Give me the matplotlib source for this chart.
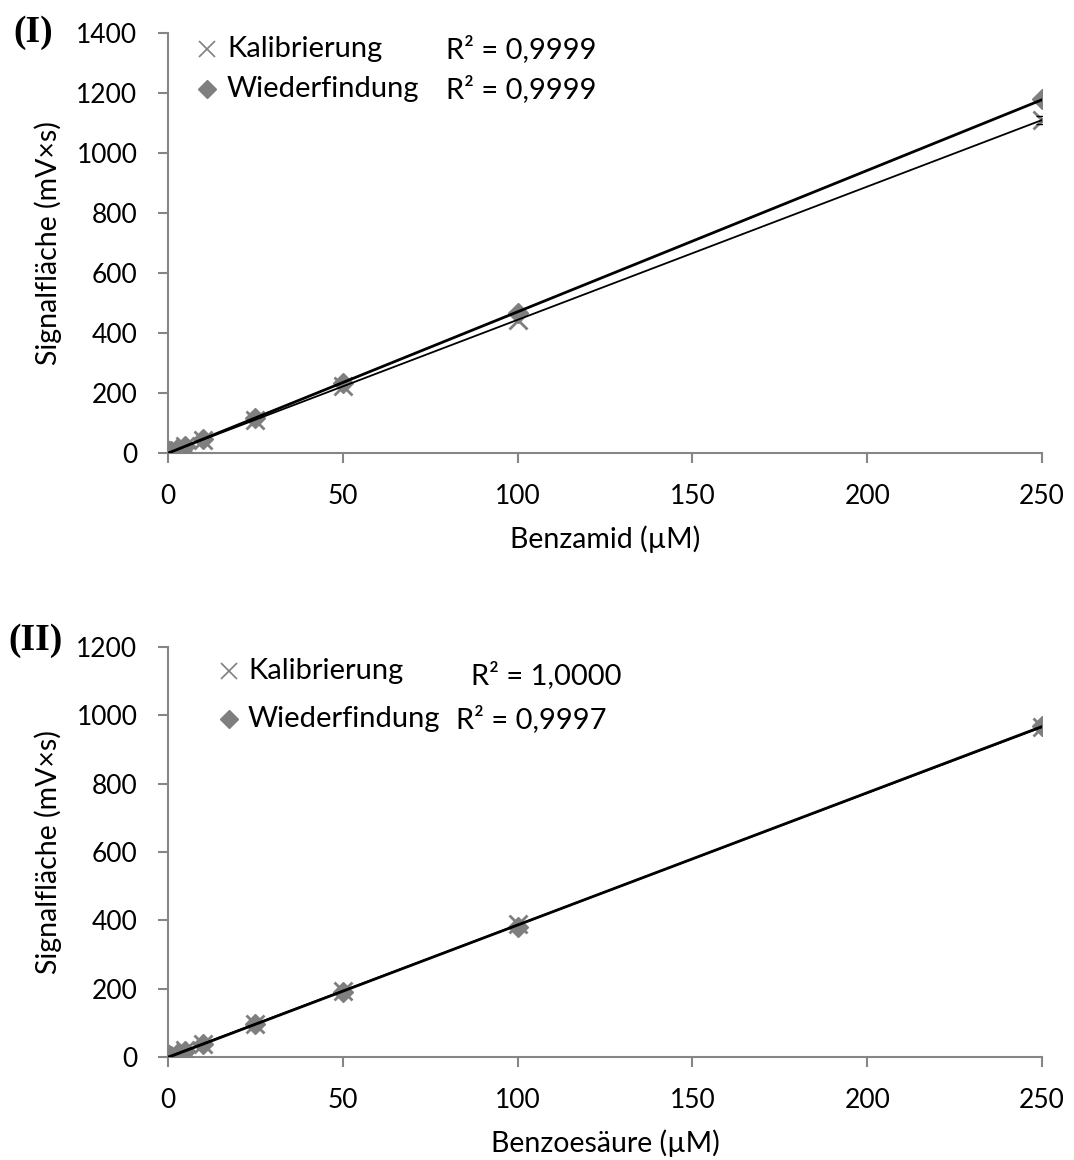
import matplotlib
matplotlib.use("Agg")
import matplotlib.pyplot as plt
import numpy as np

plt.rcParams["font.family"] = ["Lato", "DejaVu Sans"]

# Konzentrationen (µM)
conc = [0.5, 1, 2.5, 5, 10, 25, 50, 100, 250]

# (I) Benzamid
bza_kal = [2, 4.5, 11, 22, 44.5, 111, 222, 443, 1110]
bza_kal_err = [0, 0, 0, 0, 0, 0, 0, 0, 14]
bza_wf = [2.5, 5, 12, 24, 47, 117, 232, 465, 1180]
bza_r2 = ["R² = 0,9999", "R² = 0,9999"]

# (II) Benzoesäure
bzs_kal = [2, 4, 10, 19.5, 39, 97, 194, 388, 965]
bzs_wf = [2, 4, 9.5, 19, 38, 96, 191, 380, 970]
bzs_r2 = ["R² = 1,0000", "R² = 0,9997"]

grey = "#7f7f7f"
axis_grey = "#868686"

fig = plt.figure(figsize=(10.74, 11.6), dpi=100)
ax1 = fig.add_axes([0.1564, 0.6095, 0.8138, 0.3621])
ax2 = fig.add_axes([0.1564, 0.0888, 0.8138, 0.3534])


def trend(x, y):
    # lineare Regression wie Excel-Trendlinie
    m, b = np.polyfit(x, y, 1)
    xs = np.array([0, 250])
    return xs, m * xs + b


def draw(ax, kal, wf, ymax, xlabel, r2, tag, tag_pos, leg_pos, r2_pos, err=None):
    x = np.array(conc)
    ax.plot(x, kal, "x", color=grey, ms=13, mew=2, zorder=3)
    ax.plot(x, wf, "D", color=grey, ms=10.5, zorder=3)
    if err is not None:
        ax.errorbar(x[-1:], kal[-1:], yerr=err[-1:], fmt="none", ecolor="black",
                    elinewidth=1, capsize=4, zorder=4)
    tx, ty = trend(x, kal)
    ax.plot(tx, ty, color="black", lw=1.3, zorder=5)
    tx, ty = trend(x, wf)
    ax.plot(tx, ty, color="black", lw=2, zorder=5)

    ax.set_xlim(0, 250)
    ax.set_ylim(0, ymax)
    ax.set_xticks(np.arange(0, 251, 50))
    ax.set_yticks(np.arange(0, ymax + 1, 200))
    for s in ["top", "right"]:
        ax.spines[s].set_visible(False)
    for s in ["left", "bottom"]:
        ax.spines[s].set_color(axis_grey)
        ax.spines[s].set_linewidth(1.5)
    ax.tick_params(direction="out", length=7, width=1.5, color=axis_grey,
                   labelsize=19, pad=15)
    ax.set_xlabel(xlabel, fontsize=20.5, labelpad=12)
    ax.set_ylabel("Signalfläche (mV×s)", fontsize=20.5, labelpad=10)

    # Legende
    lx, ly1, ly2, tx0 = leg_pos
    ax.plot([lx], [ly1], "x", color=grey, ms=11, mew=1.2, transform=ax.transAxes,
            clip_on=False)
    ax.plot([lx], [ly2], "D", color=grey, ms=9, transform=ax.transAxes,
            clip_on=False)
    ax.text(tx0, ly1, "Kalibrierung", fontsize=21, va="center",
            transform=ax.transAxes)
    ax.text(tx0, ly2, "Wiederfindung", fontsize=21, va="center",
            transform=ax.transAxes)
    (r1x, r1y), (r2x, r2y) = r2_pos
    ax.text(r1x, r1y, r2[0], fontsize=21, va="center", transform=ax.transAxes)
    ax.text(r2x, r2y, r2[1], fontsize=21, va="center", transform=ax.transAxes)

    ax.text(tag_pos[0], tag_pos[1], tag, fontsize=27, fontweight="bold",
            family="Liberation Serif", ha="center", va="center",
            transform=ax.transAxes)


draw(ax1, bza_kal, bza_wf, 1400, "Benzamid (µM)", bza_r2, "(I)", (-0.154, 1.0),
     leg_pos=(0.0446, 0.962, 0.867, 0.0675),
     r2_pos=((0.318, 0.962), (0.318, 0.867)), err=bza_kal_err)
draw(ax2, bzs_kal, bzs_wf, 1200, "Benzoesäure (µM)", bzs_r2, "(II)", (-0.152, 1.017),
     leg_pos=(0.0698, 0.941, 0.824, 0.0915),
     r2_pos=((0.347, 0.932), (0.329, 0.824)))

fig.savefig("out.png", dpi=100)
